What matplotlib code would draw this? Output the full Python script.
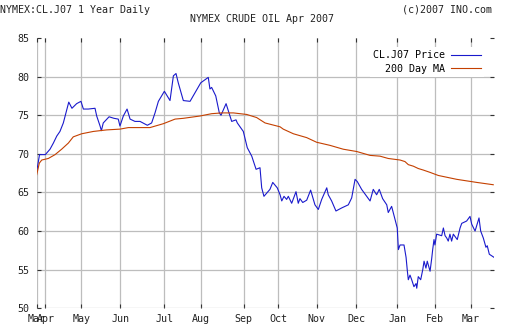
import numpy as np
import matplotlib
matplotlib.use("Agg")
import matplotlib.pyplot as plt

# trading-day index of each month start (Mar 2006 .. Mar 2007)
month_pos = [0, 4.6, 23.8, 44.6, 68.1, 87.4, 110.3, 128.8, 149.4, 170.3, 192.4, 212.3, 231.5]
month_labels = ["Mar", "Apr", "May", "Jun", "Jul", "Aug", "Sep", "Oct", "Nov", "Dec", "Jan", "Feb", "Mar"]

# daily settle (traced), x = trading-day index
price_x = [0, 1.5, 4.6, 7.1, 8.9, 10.7, 12.4, 14.2, 15.6, 17.1, 18.8, 21.3, 23.6, 24.9, 27.5,
           31.1, 32.0, 33.8, 34.5, 35.5, 38.6, 41.2, 43.5, 44.4, 46.2, 48.2, 49.8, 52.4, 55.1,
           59.0, 61.3, 63.1, 64.9, 68.1, 71.1, 72.9, 74.3, 75.5, 78.2, 81.8, 84.4, 87.5, 91.5,
           92.4, 93.3, 95.5, 97.4, 98.3, 101.0, 104.0, 106.3, 107.0, 110.2, 112.3, 114.7, 117.0,
           119.1, 120.0, 121.2, 124.4, 125.9, 128.3, 129.8, 130.7, 131.9, 133.3, 134.2, 136.0,
           138.3, 139.5, 140.4, 141.9, 144.0, 146.1, 148.4, 150.2, 152.0, 154.7, 155.5, 157.3,
           159.6, 162.7, 164.4, 166.2, 168.0, 169.8, 171.0, 173.3, 176.0, 177.8, 179.5, 181.3,
           182.7, 184.5, 186.7, 187.5, 189.3, 191.1, 192.3, 192.9, 193.8, 195.9, 197.0, 197.7,
           198.2, 199.1, 200.0, 201.2, 202.3, 202.7, 203.5, 204.8, 205.9, 206.6, 207.6, 208.3,
           209.8, 210.7, 211.2, 211.9, 212.4, 213.3, 216.0, 216.9, 217.8, 218.7, 219.5, 220.4,
           221.3, 222.2, 224.3, 225.8, 226.7, 229.3, 231.1, 232.0, 233.8, 235.0, 235.9, 236.8,
           238.2, 239.6, 240.3, 241.4, 243.9]
price_y = [67.7, 69.9, 69.9, 70.6, 71.4, 72.3, 72.9, 74.0, 75.3, 76.7, 75.9, 76.5, 76.8, 75.8, 75.8,
           75.9, 74.9, 73.6, 73.0, 74.0, 74.8, 74.6, 74.5, 73.6, 74.9, 75.8, 74.5, 74.2, 74.2,
           73.7, 74.0, 75.3, 76.8, 78.1, 76.9, 80.1, 80.4, 79.2, 76.9, 76.8, 77.9, 79.2, 79.9,
           78.4, 78.6, 77.5, 75.3, 75.0, 76.5, 74.2, 74.4, 74.0, 72.9, 70.8, 69.7, 68.0,
           68.2, 65.6, 64.5, 65.4, 66.3, 65.6, 64.7, 63.9, 64.5, 64.1, 64.5, 63.6,
           65.1, 63.6, 64.2, 63.7, 64.0, 65.3, 63.4, 62.8, 64.1, 65.6, 64.7, 63.9,
           62.6, 63.0, 63.2, 63.4, 64.3, 66.7, 66.4, 65.4, 64.5, 63.9, 65.4, 64.7,
           65.4, 64.2, 63.4, 62.4, 63.2, 61.5, 60.4, 57.6, 58.2, 58.2, 56.6, 54.8,
           53.7, 54.3, 53.7, 52.8, 53.2, 52.6, 54.1, 53.7, 55.0, 56.1, 55.2, 56.1,
           54.8, 56.5, 57.6, 58.9, 58.2, 59.6, 59.4, 60.4, 59.4, 59.1, 58.7, 59.6,
           58.7, 59.6, 58.9, 60.4, 61.0, 61.3, 61.9, 60.9, 60.0, 61.0, 61.7, 60.0,
           59.1, 57.9, 58.1, 57.0, 56.6]

# 200 day moving average
ma_x = [0, 1.4, 2.7, 6.2, 9.8, 13.3, 16.9, 19.5, 24.0, 30.2, 37.3, 44.4, 48.9, 60.4, 67.5, 73.8,
        78.2, 87.1, 93.3, 98.7, 104.9, 112.0, 117.3, 121.8, 129.8, 131.5, 136.9, 144.0, 149.3,
        156.4, 163.5, 170.7, 177.8, 183.1, 187.5, 193.8, 196.4, 198.2, 200.9, 203.5, 206.2,
        209.8, 214.2, 224.0, 234.7, 243.5]
ma_y = [67.3, 68.8, 69.2, 69.4, 69.9, 70.6, 71.4, 72.2, 72.6, 72.9, 73.1, 73.2, 73.4, 73.4, 73.9, 74.5,
        74.6, 74.9, 75.2, 75.3, 75.3, 75.1, 74.7, 74.0, 73.5, 73.2, 72.6, 72.1, 71.5,
        71.1, 70.6, 70.3, 69.8, 69.7, 69.4, 69.2, 69.0, 68.6, 68.4, 68.1, 67.9,
        67.6, 67.2, 66.7, 66.3, 66.0]

mono = "DejaVu Sans Mono"
fs = 7.2

fig = plt.figure(figsize=(5.12, 3.36), dpi=100)
ax = fig.add_axes([36.7 / 512, 27.7 / 336, 457.3 / 512, 270.3 / 336])

ax.plot(price_x, price_y, color="#1a1acc", lw=0.8, label="CL.J07 Price", zorder=3)
ax.plot(ma_x, ma_y, color="#c44000", lw=0.8, label="200 Day MA", zorder=3)

ax.set_xlim(0, 243.9)
ax.set_ylim(50, 85)
ax.set_yticks(np.arange(50, 86, 5))
ax.set_xticks(month_pos)
ax.set_xticklabels(month_labels, fontfamily=mono, fontsize=fs, color="#222222")
for lab in ax.get_yticklabels():
    lab.set_fontfamily(mono)
    lab.set_fontsize(fs)
    lab.set_color("#222222")

for s in ax.spines.values():
    s.set_visible(False)
ax.grid(True, color="#bdbdbd", lw=0.9)
ax.yaxis.get_gridlines()[-1].set_visible(False)
ax.set_axisbelow(True)
ax.tick_params(direction="in", length=3, width=0.8, color="#333333",
               top=True, right=True, labelsize=fs)
ax.tick_params(axis="x", pad=4)
ax.tick_params(axis="y", pad=5)

leg = ax.legend(loc="upper right", bbox_to_anchor=(0.99, 0.985), markerfirst=False,
                frameon=True, fancybox=False, handlelength=3.0, handletextpad=0.6,
                labelspacing=0.35, borderpad=0.3, prop={"family": mono, "size": fs})
leg.get_frame().set_edgecolor("none")
leg.get_frame().set_facecolor("white")
leg.get_frame().set_alpha(1)

fig.text(0.0, 1 - 10 / 336, "NYMEX:CL.J07 1 Year Daily", family=mono, fontsize=fs,
         ha="left", va="center", color="#222222")
fig.text(492 / 512, 1 - 10 / 336, "(c)2007 INO.com", family=mono, fontsize=fs,
         ha="right", va="center", color="#222222")
fig.text(262 / 512, 1 - 19 / 336, "NYMEX CRUDE OIL Apr 2007", family=mono, fontsize=fs,
         ha="center", va="center", color="#222222")

fig.savefig("out.png", dpi=100)
